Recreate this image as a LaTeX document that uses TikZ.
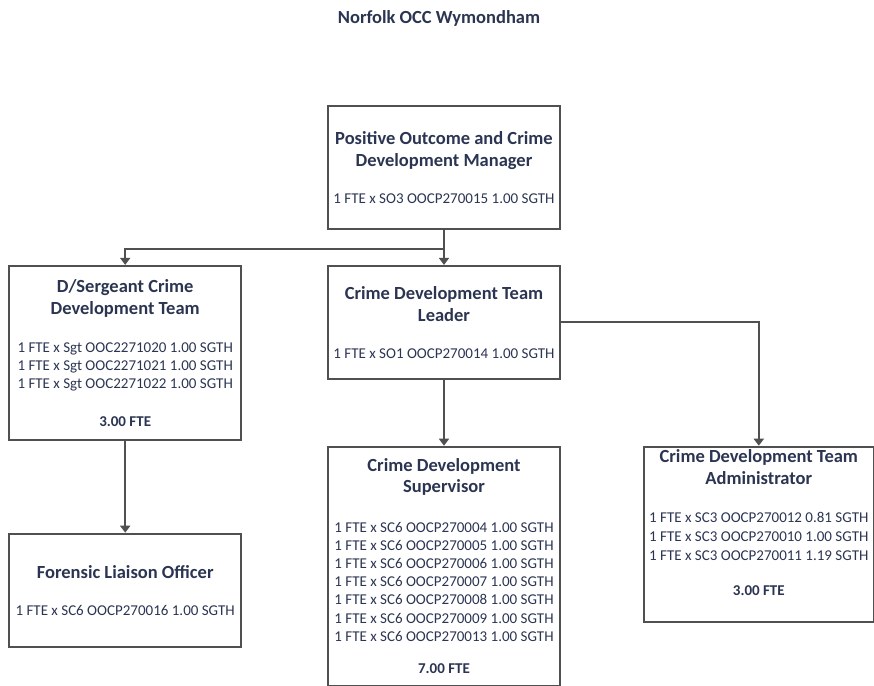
\documentclass[tikz,border=0pt]{standalone}
\usepackage{fontspec}
\setmainfont{Carlito}
\usepackage{xcolor}
\usepackage{tikz}
\usetikzlibrary{arrows.meta, positioning}

\definecolor{ink}{HTML}{2B3552}
\definecolor{rulegray}{HTML}{505050}
\newcommand{\ttl}[1]{{\bfseries\fontsize{18.5}{22}\selectfont #1}}

\begin{document}
\begin{tikzpicture}[x=1pt, y=-1pt,
  box/.style={draw=rulegray, line width=1.8pt, minimum width=232pt, align=center,
    text=ink, font=\fontsize{15}{17.5}\selectfont, inner sep=0pt},
  edge/.style={-{Triangle[width=10pt,length=7pt]}, draw=rulegray, line width=1.8pt},
  plain/.style={draw=rulegray, line width=1.8pt}
]
\useasboundingbox (0,0) rectangle (874,685);

\node[text=ink, font=\bfseries\fontsize{18.5}{22}\selectfont] (title) at (439,18) {Norfolk OCC Wymondham};

\node[box, minimum height=123pt] (mgr) at (444,167.5)
  {\ttl{Positive Outcome and Crime}\\[4.5pt]\ttl{Development Manager}\\[19.5pt]
   1 FTE x SO3 OOCP270015 1.00 SGTH};
\node[box, minimum height=113pt, below=35pt of mgr] (leader)
  {\ttl{Crime Development Team}\\[4.5pt]\ttl{Leader}\\[19.5pt]
   1 FTE x SO1 OOCP270014 1.00 SGTH};
\node[box, minimum height=174pt, font=\fontsize{15}{18}\selectfont,
  left=85pt of leader.north west, anchor=north east] (sgt)
  {\ttl{D/Sergeant Crime}\\[4pt]\ttl{Development Team}\\[20pt]
   1 FTE x Sgt OOC2271020 1.00 SGTH\\
   1 FTE x Sgt OOC2271021 1.00 SGTH\\
   1 FTE x Sgt OOC2271022 1.00 SGTH\\[20pt]
   \textbf{3.00 FTE}};
\node[box, minimum height=113pt, below=92pt of sgt] (flo)
  {\ttl{Forensic Liaison Officer}\\[19.5pt]
   1 FTE x SC6 OOCP270016 1.00 SGTH};
\node[box, minimum height=239pt, font=\fontsize{15}{18.2}\selectfont,
  below=66pt of leader] (sup)
  {\ttl{Crime Development}\\[3pt]\ttl{Supervisor}\\[21.5pt]
   1 FTE x SC6 OOCP270004 1.00 SGTH\\
   1 FTE x SC6 OOCP270005 1.00 SGTH\\
   1 FTE x SC6 OOCP270006 1.00 SGTH\\
   1 FTE x SC6 OOCP270007 1.00 SGTH\\
   1 FTE x SC6 OOCP270008 1.00 SGTH\\
   1 FTE x SC6 OOCP270009 1.00 SGTH\\
   1 FTE x SC6 OOCP270013 1.00 SGTH\\[14.5pt]
   \textbf{7.00 FTE}};
\node[box, minimum width=230pt, minimum height=175pt, font=\fontsize{15}{19}\selectfont,
  right=82pt of sup.north east, anchor=north west] (admin)
  {\ttl{Crime Development Team}\\[3pt]\ttl{Administrator}\\[19pt]
   1 FTE x SC3 OOCP270012 0.81 SGTH\\
   1 FTE x SC3 OOCP270010 1.00 SGTH\\
   1 FTE x SC3 OOCP270011 1.19 SGTH\\[16pt]
   \textbf{3.00 FTE}\\[4pt]\mbox{}};

\coordinate[below=19pt of mgr.south] (split);

\draw[plain] (mgr.south) -- (split);
\draw[edge] (split) -| (sgt.north);
\draw[edge] (split) -- (leader.north);
\draw[edge] (leader.east) -| (admin.north);
\draw[edge] (leader.south) -- (sup.north);
\draw[edge] (sgt.south) -- (flo.north);
\end{tikzpicture}
\end{document}
